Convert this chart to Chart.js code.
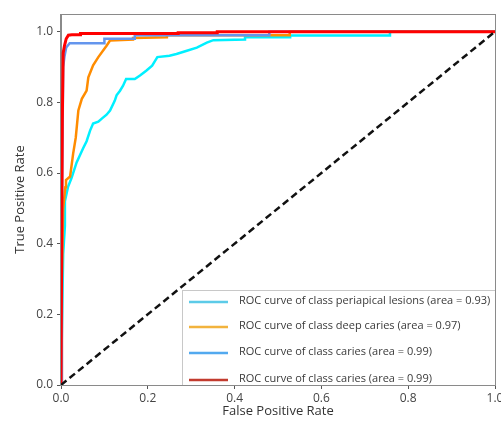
<!DOCTYPE html>
<html>
<head>
<meta charset="utf-8">
<script src="https://cdn.jsdelivr.net/npm/chart.js@4.4.1/dist/chart.umd.min.js"></script>
<style>
  html, body { margin: 0; padding: 0; background: #fff; }
  #wrap { width: 501px; height: 428px; }
</style>
</head>
<body>
<div id="wrap"><canvas id="roc" width="501" height="428"></canvas></div>
<script>
// ROC points (false positive rate / true positive rate)
const periapicalFpr = [0, 0.005, 0.009, 0.009, 0.016, 0.024, 0.036, 0.051, 0.059, 0.067, 0.074, 0.086, 0.094, 0.105, 0.113, 0.124, 0.128, 0.136, 0.143, 0.150, 0.170, 0.182, 0.197, 0.210, 0.222, 0.250, 0.266, 0.290, 0.313, 0.336, 0.351, 0.424, 0.424, 0.528, 0.528, 0.758, 0.758, 1.0];
const periapicalTpr = [0, 0.37, 0.45, 0.52, 0.56, 0.585, 0.63, 0.67, 0.69, 0.72, 0.74, 0.745, 0.754, 0.765, 0.777, 0.805, 0.82, 0.833, 0.847, 0.866, 0.866, 0.876, 0.89, 0.904, 0.928, 0.932, 0.937, 0.946, 0.955, 0.969, 0.976, 0.978, 0.984, 0.984, 0.989, 0.989, 1.0, 1.0];

const deepFpr = [0, 0.002, 0.005, 0.010, 0.0115, 0.021, 0.028, 0.034, 0.040, 0.048, 0.059, 0.063, 0.074, 0.086, 0.105, 0.113, 0.166, 0.166, 0.244, 0.244, 0.527, 0.527, 1.0];
const deepTpr = [0, 0.30, 0.50, 0.56, 0.58, 0.59, 0.655, 0.70, 0.777, 0.81, 0.833, 0.871, 0.905, 0.928, 0.96, 0.975, 0.978, 0.982, 0.984, 0.99, 0.99, 1.0, 1.0];

const cariesFpr = [0, 0.002, 0.005, 0.008, 0.012, 0.020, 0.100, 0.100, 0.170, 0.170, 0.480, 0.480, 1.0];
const cariesTpr = [0, 0.50, 0.90, 0.93, 0.955, 0.967, 0.967, 0.98, 0.98, 0.99, 0.99, 1.0, 1.0];

const caries2Fpr = [0, 0.003, 0.005, 0.008, 0.012, 0.017, 0.025, 0.045, 0.045, 0.270, 0.270, 0.360, 0.360, 1.0];
const caries2Tpr = [0, 0.75, 0.94, 0.96, 0.98, 0.99, 0.991, 0.991, 0.995, 0.995, 0.997, 0.997, 1.0, 1.0];

const chanceFpr = [0, 1];
const chanceTpr = [0, 1];

const legendLabels = [
    'ROC curve of class periapical lesions (area = 0.93)',
    'ROC curve of class deep caries (area = 0.97)',
    'ROC curve of class caries (area = 0.99)',
    'ROC curve of class caries (area = 0.99)'
];
const tickValues = [0, 0.2, 0.4, 0.6, 0.8, 1.0];

const lineColors = ['#00f0ff', '#ff8c00', '#6495ed', '#ff0000'];
const legendColors = ['#5ccbe8', '#f2b33d', '#52a9ef', '#c23b2e'];

function toPoints(xs, ys) {
    return xs.map((x, i) => ({ x: x, y: ys[i] }));
}

function curve(label, xs, ys, color, width, order) {
    return {
        label: label,
        data: toPoints(xs, ys),
        borderColor: color,
        borderWidth: width,
        pointRadius: 0,
        showLine: true,
        tension: 0,
        fill: false,
        order: order
    };
}

// legend drawn inside the plot, lower right
const insideLegend = {
    id: 'insideLegend',
    afterDraw(chart) {
        const ctx = chart.ctx;
        const area = chart.chartArea;
        const left = 182, top = 290;
        ctx.save();
        ctx.beginPath();
        ctx.rect(area.left, area.top, area.right - area.left, area.bottom - area.top);
        ctx.clip();
        ctx.fillStyle = 'rgba(255,255,255,0.92)';
        ctx.fillRect(left, top, area.right - left, area.bottom - top + 2);
        ctx.strokeStyle = '#c8c8c8';
        ctx.lineWidth = 1;
        ctx.strokeRect(left + 0.5, top + 0.5, area.right - left, area.bottom - top + 2);
        ctx.font = '11px "Open Sans"';
        ctx.textBaseline = 'middle';
        const rows = [302, 327, 353, 380];
        legendLabels.forEach((text, i) => {
            ctx.strokeStyle = legendColors[i];
            ctx.lineWidth = 2.5;
            ctx.beginPath();
            ctx.moveTo(189, rows[i]);
            ctx.lineTo(228, rows[i]);
            ctx.stroke();
            ctx.fillStyle = '#3a3a3a';
            ctx.fillText(text, 239, rows[i] - 1);
        });
        ctx.restore();

        // frame round the plot
        ctx.save();
        ctx.strokeStyle = '#8a8a8a';
        ctx.lineWidth = 1;
        ctx.strokeRect(Math.round(area.left) - 0.5, Math.round(area.top) + 0.5,
            Math.round(area.right - area.left) + 1, Math.round(area.bottom - area.top));
        ctx.restore();
    }
};

const tickFont = { family: '"Open Sans"', size: 12 };
const titleFont = { family: '"Open Sans"', size: 13 };

new Chart(document.getElementById('roc'), {
    type: 'scatter',
    data: {
        datasets: [
            curve(legendLabels[0], periapicalFpr, periapicalTpr, lineColors[0], 2.5, 5),
            curve(legendLabels[1], deepFpr, deepTpr, lineColors[1], 2.5, 4),
            curve(legendLabels[2], cariesFpr, cariesTpr, lineColors[2], 2.5, 3),
            curve(legendLabels[3], caries2Fpr, caries2Tpr, lineColors[3], 3, 2),
            {
                label: 'chance',
                data: toPoints(chanceFpr, chanceTpr),
                borderColor: '#111',
                borderWidth: 2.5,
                borderDash: [7, 4],
                pointRadius: 0,
                showLine: true,
                order: 1
            }
        ]
    },
    options: {
        responsive: false,
        animation: false,
        devicePixelRatio: 1,
        layout: { padding: { top: 14, right: 6, left: 0, bottom: 0 } },
        plugins: {
            legend: { display: false },
            tooltip: { enabled: false }
        },
        scales: {
            x: {
                type: 'linear',
                min: 0,
                max: 1.0,
                afterBuildTicks: s => { s.ticks = tickValues.map(v => ({ value: v })); },
                afterFit: s => { s.height = 43; s.paddingLeft = 0; s.paddingRight = 0; },
                ticks: {
                    color: '#444',
                    font: tickFont,
                    padding: 2,
                    maxRotation: 0,
                    autoSkip: false,
                    callback: v => v.toFixed(1)
                },
                grid: { drawOnChartArea: false, drawTicks: true, tickLength: 4, tickColor: '#555' },
                border: { display: true, color: '#8a8a8a' },
                title: { display: true, text: 'False Positive Rate', color: '#333', font: titleFont, padding: { top: 0, bottom: 9 } }
            },
            y: {
                type: 'linear',
                min: 0,
                max: 1.05,
                afterBuildTicks: s => { s.ticks = tickValues.map(v => ({ value: v })); },
                afterFit: s => { s.width = 61; s.paddingTop = 0; s.paddingBottom = 0; },
                ticks: {
                    color: '#444',
                    font: tickFont,
                    padding: 4,
                    autoSkip: false,
                    callback: v => v.toFixed(1)
                },
                grid: { drawOnChartArea: false, drawTicks: true, tickLength: 4, tickColor: '#555' },
                border: { display: true, color: '#8a8a8a' },
                title: { display: true, text: 'True Positive Rate', color: '#333', font: titleFont, padding: { top: 12, bottom: 0 } }
            }
        }
    },
    plugins: [insideLegend]
});
</script>
</body>
</html>
